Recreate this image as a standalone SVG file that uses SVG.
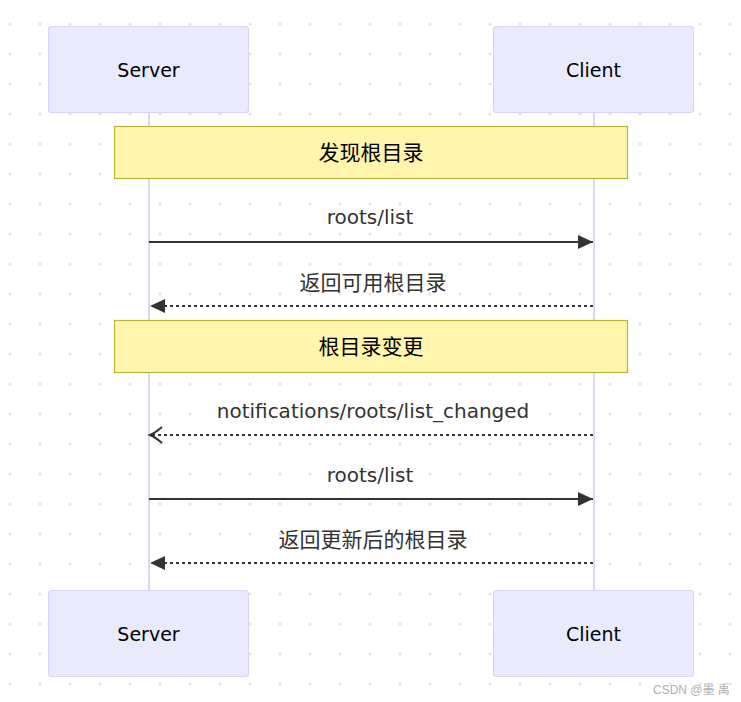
<svg xmlns="http://www.w3.org/2000/svg" width="741" height="702" viewBox="0 0 741 702">
<defs>
<pattern id="dots" x="10" y="24" width="30" height="30" patternUnits="userSpaceOnUse">
<circle cx="0" cy="0" r="1.6" fill="#e3e3e3"/><circle cx="30" cy="0" r="1.6" fill="#e3e3e3"/><circle cx="0" cy="30" r="1.6" fill="#e3e3e3"/><circle cx="30" cy="30" r="1.6" fill="#e3e3e3"/>
</pattern>
<marker id="filled" markerWidth="16" markerHeight="16" refX="15" refY="7" orient="auto" markerUnits="userSpaceOnUse">
<path d="M0,0 L15,7 L0,14 z" fill="#333"/>
</marker>
<marker id="open" markerWidth="16" markerHeight="20" refX="13" refY="9" orient="auto" markerUnits="userSpaceOnUse">
<path d="M1,1 Q8,7 13,9 Q8,11 1,17" fill="none" stroke="#333" stroke-width="2"/>
</marker>
<style>
.actor{fill:#eaeafd;stroke:#dbd3f5;stroke-width:1.2}
.life{stroke:#ddd5f5;stroke-width:2}
.note{fill:#fff5ad;stroke:#b5b53a;stroke-width:1.2}
.t{font-family:"DejaVu Sans","Noto Sans CJK SC",sans-serif;text-anchor:middle;dominant-baseline:central}
.at{fill:#000;font-size:19px}
.nt{fill:#000;font-size:21px}
.mt{fill:#333;font-size:20px}
.ct{fill:#333;font-size:21px}
.solid{stroke:#333;stroke-width:2;fill:none}
.dash{stroke:#333;stroke-width:2;fill:none;stroke-dasharray:3,3}
</style>
</defs>
<rect width="741" height="702" fill="#fff"/>
<rect width="741" height="702" fill="url(#dots)"/>
<g id="lifelines">
<line class="life" x1="149" y1="113" x2="149" y2="590"/>
<line class="life" x1="594" y1="113" x2="594" y2="590"/>
</g>
<g id="server-top"><rect class="actor" x="48.5" y="26.5" width="200" height="86" rx="3"/><text class="t at" x="148.5" y="70">Server</text></g>
<g id="client-top"><rect class="actor" x="493.5" y="26.5" width="200" height="86" rx="3"/><text class="t at" x="593.5" y="70">Client</text></g>
<g id="server-bottom"><rect class="actor" x="48.5" y="590.5" width="200" height="86" rx="3"/><text class="t at" x="148.5" y="634">Server</text></g>
<g id="client-bottom"><rect class="actor" x="493.5" y="590.5" width="200" height="86" rx="3"/><text class="t at" x="593.5" y="634">Client</text></g>
<g id="note1"><rect class="note" x="114.5" y="126.5" width="513" height="52"/><text class="t nt" x="371" y="153">发现根目录</text></g>
<g id="note2"><rect class="note" x="114.5" y="320.5" width="513" height="52"/><text class="t nt" x="371" y="347">根目录变更</text></g>
<g id="connectors">
<line class="solid" x1="149" y1="242" x2="593" y2="242" marker-end="url(#filled)"/>
<line class="dash" x1="593" y1="306" x2="150" y2="306" marker-end="url(#filled)"/>
<line class="dash" x1="593" y1="435" x2="150" y2="435" marker-end="url(#open)"/>
<line class="solid" x1="149" y1="499" x2="593" y2="499" marker-end="url(#filled)"/>
<line class="dash" x1="593" y1="563" x2="150" y2="563" marker-end="url(#filled)"/>
</g>
<g id="labels">
<text class="t mt" x="370" y="217">roots/list</text>
<text class="t ct" x="373" y="283">返回可用根目录</text>
<text class="t mt" x="373" y="411">notifications/roots/list_changed</text>
<text class="t mt" x="370" y="475">roots/list</text>
<text class="t ct" x="373" y="540">返回更新后的根目录</text>
</g>
<text x="653" y="694" font-family="'Liberation Sans','Noto Sans CJK SC',sans-serif" font-size="12" fill="#b0b0b0">CSDN @墨 禹</text>
</svg>
